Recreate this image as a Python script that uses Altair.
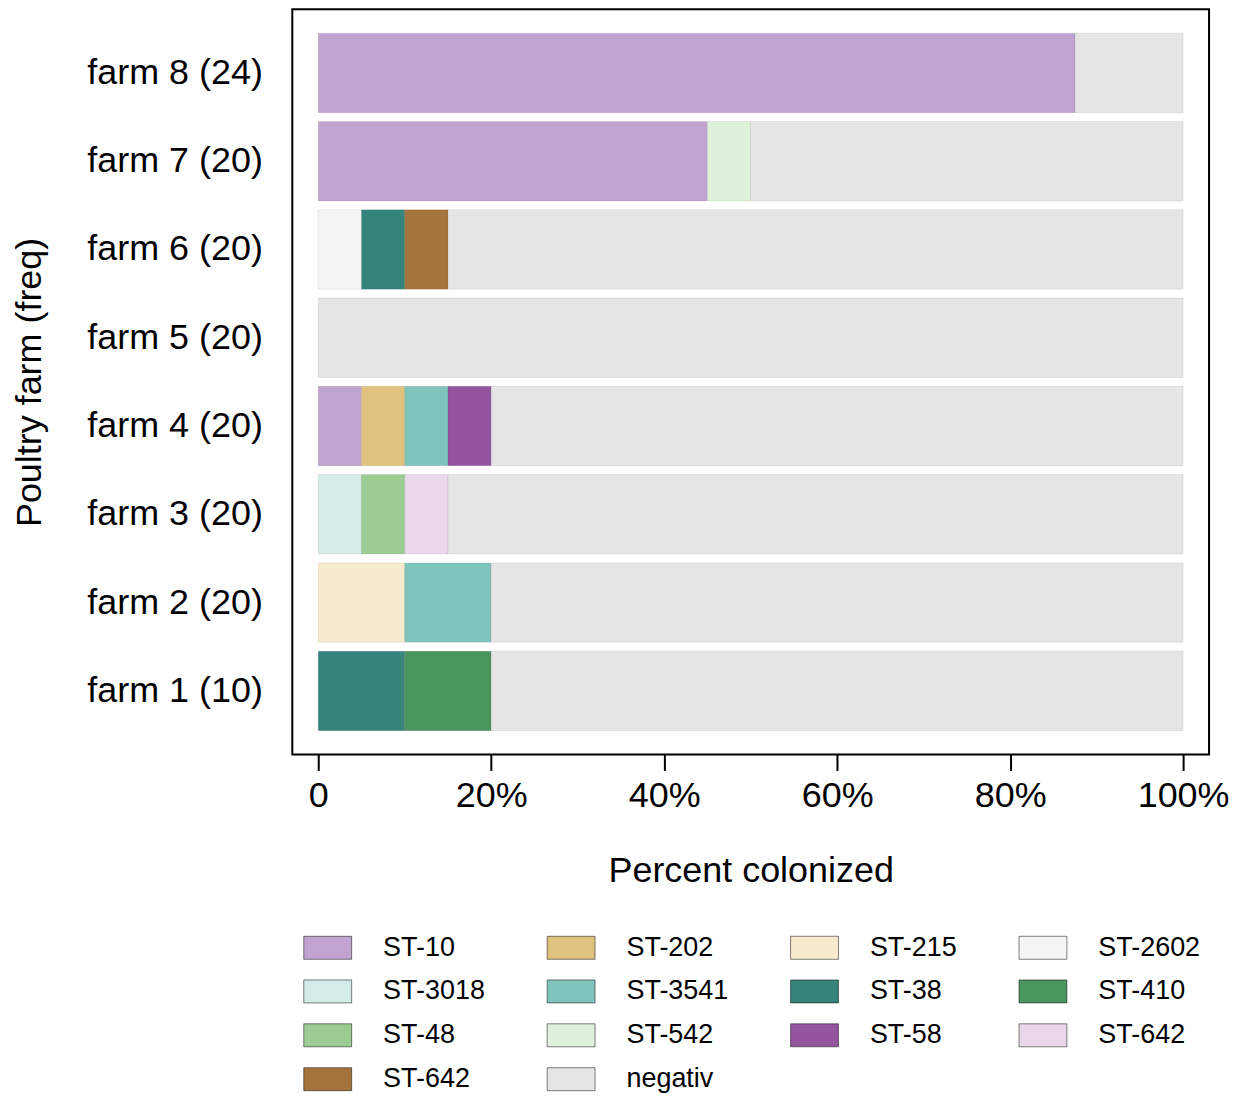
import altair as alt
import pandas as pd

farms = ["farm 1 (10)", "farm 2 (20)", "farm 3 (20)", "farm 4 (20)",
         "farm 5 (20)", "farm 6 (20)", "farm 7 (20)", "farm 8 (24)"]

st_types = ["ST-10", "ST-202", "ST-215", "ST-2602", "ST-3018", "ST-3541", "ST-38",
            "ST-410", "ST-48", "ST-542", "ST-58", "ST-642", "ST-642b", "negativ"]
st_colors = ["#c0a3cf", "#dfc27d", "#f7ebcd", "#f5f5f5", "#d3ece7", "#7fc5bc", "#34847c",
             "#4a945e", "#9bcd93", "#dff1db", "#92559e", "#e8d8ea", "#a5743c", "#e5e5e5"]

seg_farm = ["farm 1 (10)", "farm 1 (10)", "farm 1 (10)",
            "farm 2 (20)", "farm 2 (20)", "farm 2 (20)",
            "farm 3 (20)", "farm 3 (20)", "farm 3 (20)", "farm 3 (20)",
            "farm 4 (20)", "farm 4 (20)", "farm 4 (20)", "farm 4 (20)", "farm 4 (20)",
            "farm 5 (20)",
            "farm 6 (20)", "farm 6 (20)", "farm 6 (20)", "farm 6 (20)",
            "farm 7 (20)", "farm 7 (20)", "farm 7 (20)",
            "farm 8 (24)", "farm 8 (24)"]
seg_type = ["ST-38", "ST-410", "negativ",
            "ST-215", "ST-3541", "negativ",
            "ST-3018", "ST-48", "ST-642", "negativ",
            "ST-10", "ST-202", "ST-3541", "ST-58", "negativ",
            "negativ",
            "ST-2602", "ST-38", "ST-642b", "negativ",
            "ST-10", "ST-542", "negativ",
            "ST-10", "negativ"]
seg_pct = [10, 10, 80,
           10, 10, 80,
           5, 5, 5, 85,
           5, 5, 5, 5, 80,
           100,
           5, 5, 5, 85,
           45, 5, 50,
           87.5, 12.5]

df = pd.DataFrame({"farm": seg_farm, "st": seg_type, "pct": seg_pct})
df["rank"] = df["st"].map({s: i for i, s in enumerate(st_types)})

FONT = "Liberation Sans"

chart = alt.Chart(df).mark_bar(
    stroke="black", strokeOpacity=0.07, strokeWidth=1
).encode(
    x=alt.X("pct:Q", stack="zero",
            scale=alt.Scale(domain=[-3, 103], nice=False, zero=False),
            axis=alt.Axis(values=[0, 20, 40, 60, 80, 100],
                          labelExpr="datum.value == 0 ? '0' : datum.value + '%'",
                          title="Percent colonized", domain=False, grid=False,
                          tickSize=16, tickWidth=2, tickColor="black",
                          labelFontSize=36, titleFontSize=36, labelPadding=8,
                          titlePadding=40, labelColor="black", titleColor="black",
                          titleFontWeight="normal", labelFont=FONT, titleFont=FONT)),
    y=alt.Y("farm:N", sort=farms[::-1],
            scale=alt.Scale(paddingInner=0.1, paddingOuter=0.27),
            axis=alt.Axis(title="Poultry farm (freq)", ticks=False, tickSize=0,
                          domain=False, grid=False, labelFontSize=36, labelPadding=30,
                          titleFontSize=36, titlePadding=44, labelColor="black",
                          titleColor="black", titleFontWeight="normal",
                          labelFont=FONT, titleFont=FONT)),
    color=alt.Color("st:N", title=None,
                    scale=alt.Scale(domain=st_types, range=st_colors),
                    legend=alt.Legend(orient="none", legendX=11, legendY=916,
                                      direction="horizontal",
                                      columns=4, columnPadding=60, rowPadding=6,
                                      symbolType="M-1,-0.48L1,-0.48L1,0.48L-1,0.48Z",
                                      symbolSize=2304, symbolStrokeWidth=0.5,
                                      labelFontSize=27, labelOffset=31, labelFont=FONT,
                                      labelColor="black", labelLimit=300,
                                      labelExpr="datum.label == 'ST-642b' ? 'ST-642' : datum.label")),
    order=alt.Order("rank:Q"),
).properties(
    width=919, height=747,
    padding={"left": 4, "top": 0, "right": 0, "bottom": 0},
).configure(
    font=FONT
).configure_view(
    stroke="black", strokeWidth=2
)

chart.save("out.html", embed_options={"renderer": "svg", "actions": False})
